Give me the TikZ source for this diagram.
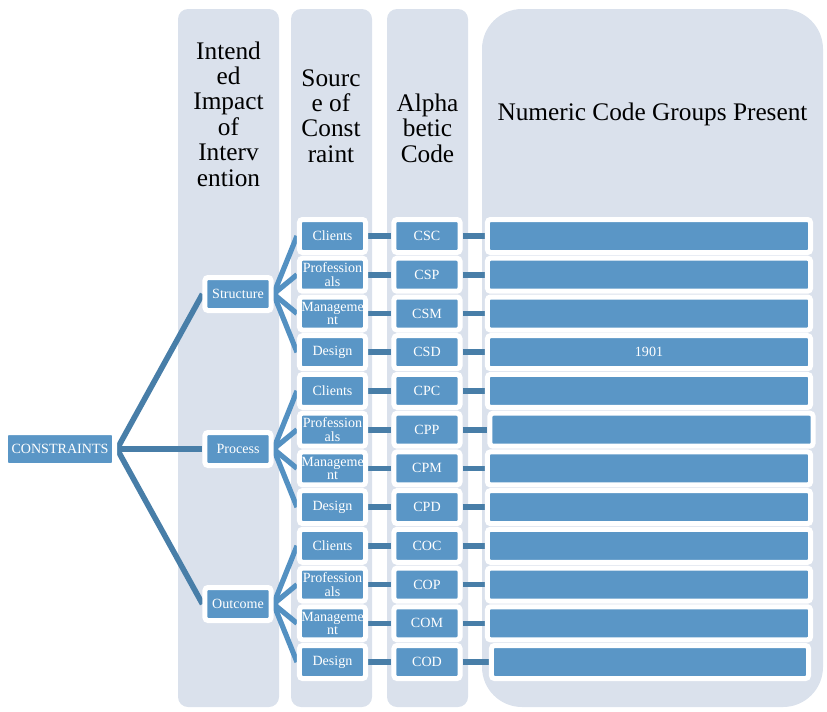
\documentclass[tikz,border=0pt]{standalone}
\usepackage{fontspec}
\setmainfont{Liberation Serif}

\definecolor{colbg}{RGB}{218,225,236}
\definecolor{boxblue}{RGB}{90,150,198}
\definecolor{linkdark}{RGB}{72,126,168}
\definecolor{linkblue}{RGB}{84,145,194}

\pgfdeclarelayer{back}
\pgfdeclarelayer{links}
\pgfsetlayers{back,links,main}

\begin{document}
\begin{tikzpicture}[
      x=0.025cm, y=-0.025cm,
      box/.style={draw=white, line width=0.125cm, fill=boxblue,
                  rounded corners=0.075cm, minimum width=1.65cm,
                  minimum height=0.825cm, inner sep=0pt, align=center,
                  text=white, font=\fontsize{10}{9.6}\selectfont},
      bar/.style={box, minimum width=8.075cm},
      head/.style={align=center, font=\fontsize{18}{18.1}\selectfont},
      trunk/.style={draw=linkdark, line width=0.14cm},
      link/.style={draw=linkblue, line width=0.13cm},
    ]
    \useasboundingbox (0,0) rectangle (827,711);

    % columns
    \begin{pgfonlayer}{back}
      \fill[colbg, rounded corners=0.25cm] (178,9) rectangle (279,707);
      \fill[colbg, rounded corners=0.25cm] (291,9) rectangle (372,707);
      \fill[colbg, rounded corners=0.25cm] (387,9) rectangle (468,707);
      \fill[colbg, rounded corners=1cm] (482,9) rectangle (823,707);
    \end{pgfonlayer}

    \node[head] (h-impact) at (228.5,114) {Intend\\ed\\Impact\\of\\Interv\\ention};
    \node[head] (h-source) at (331,116) {Sourc\\e of\\Const\\raint};
    \node[head] (h-alpha) at (427.5,128) {Alpha\\betic\\Code};
    \node[head] (h-numeric) at (652.5,114) {Numeric Code Groups Present};

    \node[box, minimum width=2.725cm] (cons) at (60,449) {CONSTRAINTS};

    \node[box] (struct) at (238,294) {Structure};
    \node[box] (proc) at (238,449) {Process};
    \node[box] (outc) at (238,604) {Outcome};

    % source of constraint
    \node[box] (s-csc) at (332.5,236) {Clients};
    \node[box] (s-csp) at (332.5,274.7) {Profession\\als};
    \node[box] (s-csm) at (332.5,313.5) {Manageme\\nt};
    \node[box] (s-csd) at (332.5,352.2) {Design};
    \node[box] (s-cpc) at (332.5,390.9) {Clients};
    \node[box] (s-cpp) at (332.5,429.7) {Profession\\als};
    \node[box] (s-cpm) at (332.5,468.4) {Manageme\\nt};
    \node[box] (s-cpd) at (332.5,507.1) {Design};
    \node[box] (s-coc) at (332.5,545.8) {Clients};
    \node[box] (s-cop) at (332.5,584.6) {Profession\\als};
    \node[box] (s-com) at (332.5,623.3) {Manageme\\nt};
    \node[box] (s-cod) at (332.5,662) {Design};

    % alphabetic codes
    \node[box] (c-csc) at (427,236) {CSC};
    \node[box] (c-csp) at (427,274.7) {CSP};
    \node[box] (c-csm) at (427,313.5) {CSM};
    \node[box] (c-csd) at (427,352.2) {CSD};
    \node[box] (c-cpc) at (427,390.9) {CPC};
    \node[box] (c-cpp) at (427,429.7) {CPP};
    \node[box] (c-cpm) at (427,468.4) {CPM};
    \node[box] (c-cpd) at (427,507.1) {CPD};
    \node[box] (c-coc) at (427,545.8) {COC};
    \node[box] (c-cop) at (427,584.6) {COP};
    \node[box] (c-com) at (427,623.3) {COM};
    \node[box] (c-cod) at (427,662) {COD};

    % numeric code groups
    \node[bar] (n-csc) at (649,236) {};
    \node[bar] (n-csp) at (649,274.7) {};
    \node[bar] (n-csm) at (649,313.5) {};
    \node[bar] (n-csd) at (649,352.2) {1901};
    \node[bar] (n-cpc) at (649,390.9) {};
    \node[bar] (n-cpp) at (651.5,429.7) {};
    \node[bar] (n-cpm) at (649,468.4) {};
    \node[bar] (n-cpd) at (649,507.1) {};
    \node[bar] (n-coc) at (649,545.8) {};
    \node[bar] (n-cop) at (649,584.6) {};
    \node[bar] (n-com) at (649,623.3) {};
    \node[bar, minimum width=7.925cm] (n-cod) at (650,662) {};

    \begin{pgfonlayer}{links}
      \draw[trunk] (cons.east) -- (struct.west);
      \draw[trunk] (cons.east) -- (proc.west);
      \draw[trunk] (cons.east) -- (outc.west);

      \draw[link] (struct.east) -- (s-csc.west);
      \draw[link] (struct.east) -- (s-csp.west);
      \draw[link] (struct.east) -- (s-csm.west);
      \draw[link] (struct.east) -- (s-csd.west);
      \draw[link] (proc.east) -- (s-cpc.west);
      \draw[link] (proc.east) -- (s-cpp.west);
      \draw[link] (proc.east) -- (s-cpm.west);
      \draw[link] (proc.east) -- (s-cpd.west);
      \draw[link] (outc.east) -- (s-coc.west);
      \draw[link] (outc.east) -- (s-cop.west);
      \draw[link] (outc.east) -- (s-com.west);
      \draw[link] (outc.east) -- (s-cod.west);

      % rows
      \draw[trunk] (s-csc.east) -- (c-csc.west) (c-csc.east) -- (n-csc.west);
      \draw[trunk] (s-csp.east) -- (c-csp.west) (c-csp.east) -- (n-csp.west);
      \draw[trunk] (s-csm.east) -- (c-csm.west) (c-csm.east) -- (n-csm.west);
      \draw[trunk] (s-csd.east) -- (c-csd.west) (c-csd.east) -- (n-csd.west);
      \draw[trunk] (s-cpc.east) -- (c-cpc.west) (c-cpc.east) -- (n-cpc.west);
      \draw[trunk] (s-cpp.east) -- (c-cpp.west) (c-cpp.east) -- (n-cpp.west);
      \draw[trunk] (s-cpm.east) -- (c-cpm.west) (c-cpm.east) -- (n-cpm.west);
      \draw[trunk] (s-cpd.east) -- (c-cpd.west) (c-cpd.east) -- (n-cpd.west);
      \draw[trunk] (s-coc.east) -- (c-coc.west) (c-coc.east) -- (n-coc.west);
      \draw[trunk] (s-cop.east) -- (c-cop.west) (c-cop.east) -- (n-cop.west);
      \draw[trunk] (s-com.east) -- (c-com.west) (c-com.east) -- (n-com.west);
      \draw[trunk] (s-cod.east) -- (c-cod.west) (c-cod.east) -- (n-cod.west);
    \end{pgfonlayer}
\end{tikzpicture}
\end{document}
